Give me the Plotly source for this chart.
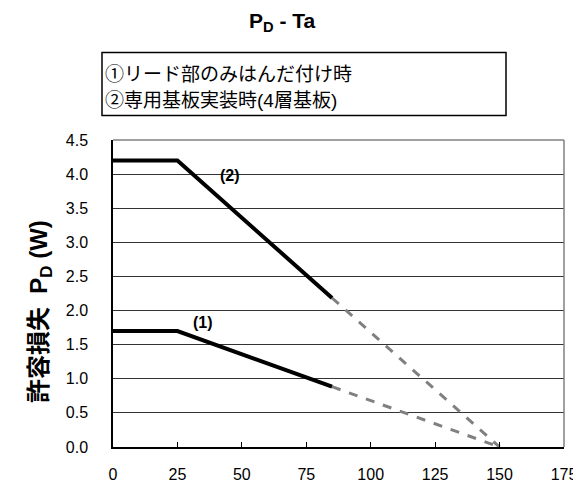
import plotly.graph_objects as go

# Data
ta_solid = [0, 25, 85]
pd1_solid = [1.7, 1.7, 0.884]
pd2_solid = [4.2, 4.2, 2.184]
ta_dash = [85, 150]
pd1_dash = [0.884, 0.0]
pd2_dash = [2.184, 0.0]
x_ticks = [0, 25, 50, 75, 100, 125, 150, 175]
y_ticks = [0.0, 0.5, 1.0, 1.5, 2.0, 2.5, 3.0, 3.5, 4.0, 4.5]
legend_lines = ["①リード部のみはんだ付け時", "②専用基板実装時(4層基板)"]
curve_labels = ["(1)", "(2)"]
label_pos = [(34.9, 1.83), (45.3, 3.98)]

FONT = "Liberation Sans, Noto Sans CJK JP, Arial, sans-serif"

# page offset (body margin 8px): plot area spans x 113..564, y 139.5..447
W, H = 573, 479
L, R, T, B = 105, 17, 132, 40
pw = W - L - R
ph = H - T - B


def px(x):
    return (x - 8 - L) / pw


def py(y):
    return (8 + T + ph - y) / ph


fig = go.Figure()
fig.add_trace(go.Scatter(x=ta_dash, y=pd1_dash, mode="lines",
                         line=dict(color="#808080", width=3, dash="dash"), showlegend=False))
fig.add_trace(go.Scatter(x=ta_dash, y=pd2_dash, mode="lines",
                         line=dict(color="#808080", width=3, dash="dash"), showlegend=False))
fig.add_trace(go.Scatter(x=ta_solid, y=pd1_solid, mode="lines",
                         line=dict(color="black", width=4), showlegend=False))
fig.add_trace(go.Scatter(x=ta_solid, y=pd2_solid, mode="lines",
                         line=dict(color="black", width=4), showlegend=False))

for txt, (lx, ly) in zip(curve_labels, label_pos):
    fig.add_annotation(x=lx, y=ly, text=f"<b>{txt}</b>", showarrow=False,
                       xanchor="center", yanchor="middle",
                       font=dict(size=16, color="black", family=FONT))

# title
fig.add_annotation(xref="paper", yref="paper", x=px(282), y=py(22), text="<b>P<sub>D</sub> - Ta</b>",
                   showarrow=False, xanchor="center", yanchor="middle",
                   font=dict(size=21, color="black", family=FONT))
# legend box
fig.add_shape(type="rect", xref="paper", yref="paper", x0=px(102), x1=px(506), y0=py(115.5), y1=py(52.5),
              line=dict(color="black", width=1.5))
for i, t in enumerate(legend_lines):
    fig.add_annotation(xref="paper", yref="paper", x=px(103), y=py([75, 101][i]), text=t,
                       showarrow=False, xanchor="left", yanchor="middle",
                       font=dict(size=19, color="black", family=FONT))
# y title
fig.add_annotation(xref="paper", yref="paper", x=px(40), y=py(312), textangle=-90,
                   text="<b>許容損失  P<sub>D</sub> (W)</b>", showarrow=False,
                   xanchor="center", yanchor="middle",
                   font=dict(size=24, color="black", family=FONT))
# top/right frame gray
fig.add_shape(type="line", xref="paper", yref="paper", x0=0, x1=1, y0=1, y1=1,
              line=dict(color="#808080", width=1.5))
fig.add_shape(type="line", xref="paper", yref="paper", x0=1, x1=1, y0=0, y1=1,
              line=dict(color="#808080", width=1.5))

fig.update_xaxes(range=[0, 175], tickvals=x_ticks, ticktext=[str(v) for v in x_ticks],
                 showgrid=False, zeroline=False, showline=True, linecolor="black", linewidth=1.5,
                 ticks="inside", ticklen=5, tickcolor="black", ticklabelstandoff=12,
                 automargin=False,
                 tickfont=dict(size=16, color="black", family=FONT))
fig.update_yaxes(range=[0, 4.5], tickvals=y_ticks, ticktext=[f"{v:.1f}" for v in y_ticks],
                 showgrid=True, gridcolor="#333333", gridwidth=1, zeroline=False,
                 showline=True, linecolor="black", linewidth=1.5, ticks="",
                 ticklabelstandoff=20, automargin=False,
                 tickfont=dict(size=16, color="black", family=FONT))
fig.update_layout(width=W, height=H, margin=dict(l=L, r=R, t=T, b=B, autoexpand=False),
                  plot_bgcolor="white", paper_bgcolor="white", showlegend=False)
fig.write_html("out.html")
